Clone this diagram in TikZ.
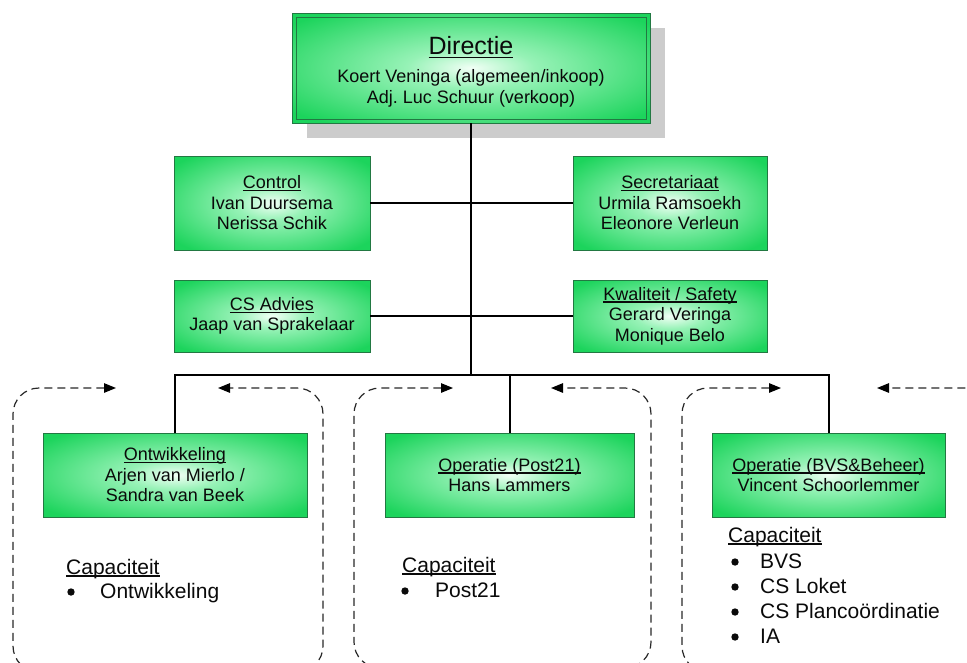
\documentclass[tikz,border=0pt]{standalone}
\usepackage{fontspec}
\setmainfont{Liberation Sans}
\usetikzlibrary{arrows.meta,shadows,calc}
\definecolor{gedge}{RGB}{28,212,92}
\definecolor{glight}{RGB}{150,242,182}
\definecolor{gcenter}{RGB}{242,255,246}
\definecolor{gborder}{RGB}{34,120,66}
\definecolor{shadowgray}{RGB}{204,204,204}
\definecolor{txt}{RGB}{10,10,10}
\definecolor{dashcol}{RGB}{40,40,40}
\pgfdeclareradialshading{gshade}{\pgfpoint{0bp}{0bp}}{color(0bp)=(gcenter); color(9bp)=(glight); color(32bp)=(gedge); color(50bp)=(gedge)}
\newcommand{\uln}[1]{\setbox0\hbox{#1}\rlap{\rule[-0.13em]{\wd0}{0.06em}}\box0}
\frenchspacing
\begin{document}
\begin{tikzpicture}[x=1pt,y=-1pt,
  gbox/.style={draw=gborder, line width=1pt, shading=gshade, align=center, text=txt,
    font=\fontsize{18}{20.5}\selectfont, inner sep=0pt, outer sep=0pt},
  btext/.style={align=center, text=txt, font=\fontsize{18}{20.5}\selectfont, inner sep=0pt},
  captext/.style={text=txt, font=\fontsize{21}{25}\selectfont, inner sep=0pt, anchor=base west},
  trunk/.style={draw=black, line width=2.3pt},
  conn/.style={draw=black, line width=2pt},
  dgroup/.style={draw=dashcol, line width=1.2pt, dash pattern=on 8pt off 5pt,
    rounded corners=26pt, {Triangle[length=12pt,width=9.5pt,color=black]}-{Triangle[length=12pt,width=9.5pt,color=black]}},
  bullet/.style={fill=txt}]
\useasboundingbox (0,0) rectangle (967,662);
\clip (0,0) rectangle (967,662);
\fill[white] (0,0) rectangle (967,662);

% dashed capacity groups
\draw[dgroup] (116,388) -- (13,388) -- (13,672) -- (323,672) -- (323,388) -- (218,388);
\draw[dgroup] (453,388) -- (354,388) -- (354,668) -- (651,668) -- (651,388) -- (551,388);
\draw[dgroup] (781,388) -- (682,388) -- (682,672) -- (993,672) -- (993,388) -- (877,388);

% Directie
\node[gbox, minimum width=358pt, minimum height=110pt,
  drop shadow={shadow xshift=15pt, shadow yshift=-15pt, fill=shadowgray, opacity=1}] (dir) at (471,68) {};
\draw[gborder, line width=1pt] ($(dir.north west)+(4,4)$) rectangle ($(dir.south east)+(-4,-4)$);
\node[btext] (dirt) at (471,72) {{\fontsize{25}{28}\selectfont\uln{Directie}}\\[7.5pt]Koert Veninga (algemeen/inkoop)\\Adj. Luc Schuur (verkoop)};

% staff boxes
\node[gbox, minimum width=196pt, minimum height=94pt] (ctrl) at (272,203) {\uln{Control}\\Ivan Duursema\\Nerissa Schik};
\node[gbox, minimum width=194pt, minimum height=94pt] (secr) at (670,203) {\uln{Secretariaat}\\Urmila Ramsoekh\\Eleonore Verleun};
\node[gbox, minimum width=196pt, minimum height=72pt] (csadv) at (272,316) {\uln{CS Advies}\\Jaap van Sprakelaar};
\node[gbox, minimum width=194pt, minimum height=72pt] (kwal) at (670,316) {\uln{Kwaliteit / Safety}\\Gerard Veringa\\Monique Belo};

% line boxes
\node[gbox, minimum width=264pt, minimum height=84pt] (ontw) at (175,475) {\uln{Ontwikkeling}\\Arjen van Mierlo /\\Sandra van Beek};
\node[gbox, minimum width=249pt, minimum height=84pt] (post) at (509.5,475) {\uln{Operatie (Post21)}\\Hans Lammers};
\node[gbox, minimum width=233pt, minimum height=84pt] (bvs) at (828.5,475) {\uln{Operatie (BVS\&Beheer)}\\Vincent Schoorlemmer};

% connectors
\coordinate (bus) at (471,375);
\coordinate (busL) at (175,375);
\coordinate (busR) at (828.5,375);
\draw[trunk] (dir.south) -- (bus);
\draw[conn] (ctrl.east) -- (secr.west);
\draw[conn] (csadv.east) -- (kwal.west);
\draw[conn, line join=miter] (ontw.north) -- (busL) -- (busR) -- (bvs.north);
\draw[conn] (post.north) -- (post.north |- bus);

% capacity lists
\node[captext] (capL) at (66,574) {\uln{Capaciteit}};
\fill[bullet] (71,592) circle (3.7);
\node[captext] (capL1) at (100,598) {Ontwikkeling};

\node[captext] (capM) at (402,572) {\uln{Capaciteit}};
\fill[bullet] (405,591) circle (3.7);
\node[captext] (capM1) at (435,597) {Post21};

\node[captext] (capR) at (728,542) {\uln{Capaciteit}};
\fill[bullet] (735,562) circle (3.7);
\node[captext] (capR1) at (760,568) {BVS};
\fill[bullet] (735,587) circle (3.7);
\node[captext] (capR2) at (760,593) {CS Loket};
\fill[bullet] (735,612) circle (3.7);
\node[captext] (capR3) at (760,618) {CS Plancoördinatie};
\fill[bullet] (735,637) circle (3.7);
\node[captext] (capR4) at (760,643) {IA};
\end{tikzpicture}
\end{document}
